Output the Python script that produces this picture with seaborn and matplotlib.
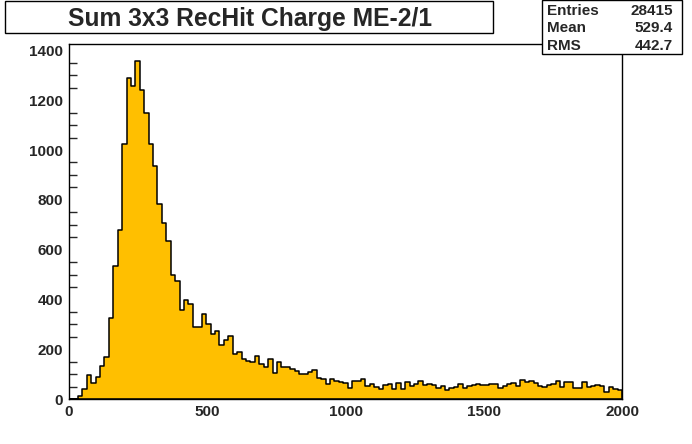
import numpy as np
import pandas as pd
import matplotlib
matplotlib.use("Agg")
import matplotlib.pyplot as plt
import seaborn as sns
from matplotlib.patches import Rectangle
from matplotlib.ticker import MultipleLocator

# 125 bins of width 16 from 0 to 2000, counts
bin_width = 16
x_range = (0, 2000)
counts = [
    0, 0, 12, 39, 95, 63, 90, 131, 168, 326,
    534, 679, 1023, 1289, 1257, 1358, 1242, 1149, 1023, 936,
    783, 707, 634, 497, 475, 357, 397, 381, 288, 288,
    341, 302, 260, 274, 216, 236, 252, 180, 188, 161,
    153, 149, 172, 139, 127, 161, 103, 148, 127, 127,
    121, 113, 99, 99, 107, 115, 83, 79, 59, 79,
    71, 67, 63, 43, 73, 73, 79, 51, 59, 50,
    39, 55, 59, 39, 63, 39, 67, 51, 59, 71,
    55, 59, 55, 46, 51, 35, 43, 47, 59, 43,
    51, 55, 60, 56, 56, 60, 60, 44, 52, 60,
    64, 52, 75, 68, 71, 64, 52, 47, 58, 62,
    71, 47, 67, 67, 43, 43, 67, 47, 51, 56,
    52, 27, 47, 42, 36,
]
bin_centers = x_range[0] + bin_width * (np.arange(len(counts)) + 0.5)

title = "Sum 3x3 RecHit Charge ME-2/1"
stats_names = ["Entries", "Mean", "RMS"]
stats_values = ["28415", "529.4", "442.7"]

df = pd.DataFrame({"charge": bin_centers, "n": counts})

sns.set_style("white")
plt.rcParams["font.family"] = ["Liberation Sans", "DejaVu Sans"]

W, H = 692, 444
fig = plt.figure(figsize=(W / 100, H / 100), dpi=100)


def fx(px):
    return px / W


def fy(py):
    return 1 - py / H


ax_l, ax_r, ax_t, ax_b = 69, 622, 43.5, 399
ax = fig.add_axes([fx(ax_l), fy(ax_b), fx(ax_r - ax_l), (ax_b - ax_t) / H])

sns.histplot(data=df, x="charge", weights="n", binwidth=bin_width, binrange=x_range,
             element="step", fill=True, color="#ffbf00", edgecolor="black",
             linewidth=1.1, alpha=1, ax=ax)

ax.set_xlim(*x_range)
ax.set_ylim(0, 1428)
ax.set_xlabel("")
ax.set_ylabel("")
ax.xaxis.set_major_locator(MultipleLocator(500))
ax.yaxis.set_major_locator(MultipleLocator(200))
ax.yaxis.set_minor_locator(MultipleLocator(50))
ax.tick_params(axis="x", which="major", direction="in", length=8, width=1,
               pad=4, labelsize=11)
ax.tick_params(axis="y", which="major", direction="in", length=12, width=1,
               pad=4.5, labelsize=11)
ax.tick_params(axis="y", which="minor", direction="in", length=6, width=1,
               left=True)
for lab in ax.get_xticklabels() + ax.get_yticklabels():
    lab.set_fontweight("bold")
for sp in ax.spines.values():
    sp.set_visible(True)
    sp.set_color("black")
    sp.set_linewidth(1)
ax.set_zorder(1)

# title box
fig.add_artist(Rectangle((fx(5), fy(33)), fx(488), 32 / H, transform=fig.transFigure,
                         facecolor="white", edgecolor="black", linewidth=1, zorder=5))
fig.text(fx(249.5), fy(26), title, ha="center", va="baseline", fontsize=17.7,
         fontweight="bold", zorder=6)

# stats box
fig.add_artist(Rectangle((fx(541.5), fy(54)), fx(140), 54 / H, transform=fig.transFigure,
                         facecolor="white", edgecolor="black", linewidth=1, zorder=5))
for i, (n, v) in enumerate(zip(stats_names, stats_values)):
    y = fy(15 + i * 17.5)
    fig.text(fx(547), y, n, ha="left", va="baseline", fontsize=11,
             fontweight="bold", zorder=6)
    fig.text(fx(673), y, v, ha="right", va="baseline", fontsize=11,
             fontweight="bold", zorder=6)

fig.savefig("out.png", dpi=100)
